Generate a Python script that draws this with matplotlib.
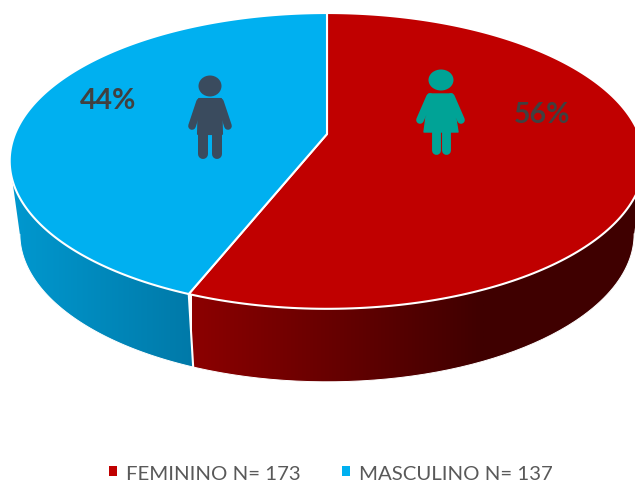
import numpy as np
import matplotlib
matplotlib.use('Agg')
import matplotlib.pyplot as plt
from matplotlib.patches import Polygon, Ellipse, Patch
from matplotlib.colors import LinearSegmentedColormap

categories = ['FEMININO N= 173', 'MASCULINO N= 137']
shares = [56, 44]
pct_labels = ['56%', '44%']
colors = ['#c00000', '#00b0f0']

plt.rcParams['font.family'] = ['Lato', 'DejaVu Sans']

fig = plt.figure(figsize=(6.35, 4.81), dpi=100)
ax = fig.add_axes([0, 0, 1, 1])

K = 0.182


def top_pt(t):
    # t is clockwise from 12 o'clock, in radians
    u, v = np.sin(t), np.cos(t)
    w = 1 + K * v
    return 327 + 312 * u / w, 135 - 143 * v / w


def low_pt(t):
    u, v = np.sin(t), np.cos(t)
    w = 1 + K * v
    return 327 + 302 * u / w, 208 - 143 * v / w


edges = np.cumsum([0] + shares) / sum(shares) * 2 * np.pi

# side wall: horizontal gradient clipped to each slice
side_maps = [LinearSegmentedColormap.from_list('r', ['#8c0000', '#3f0000']),
             LinearSegmentedColormap.from_list('b', ['#0098cf', '#0079a8'])]
side_extent = [(192, 484), (12, 194)]
grad = np.linspace(0, 1, 256).reshape(1, -1)
for i, (a, b) in enumerate(zip(edges[:-1], edges[1:])):
    ts = np.linspace(a, b, 300)
    xu, yu = top_pt(ts)
    xl, yl = low_pt(ts)
    # go only as far as the widest point of each rim, so the outline stays convex
    if i == 0:
        iu, il = np.argmax(xu), np.argmax(xl)
        pts = list(zip(xu[iu:], yu[iu:])) + list(zip(xl[il:][::-1], yl[il:][::-1]))
        rim = (xl[il:], yl[il:])
    else:
        iu, il = np.argmin(xu), np.argmin(xl)
        pts = list(zip(xu[:iu + 1], yu[:iu + 1])) + list(zip(xl[:il + 1][::-1], yl[:il + 1][::-1]))
        rim = (xl[:il + 1], yl[:il + 1])
    shape = Polygon(pts, closed=True, facecolor='none', edgecolor='none', zorder=2)
    ax.add_patch(shape)
    x0, x1 = side_extent[i]
    ax.imshow(grad, cmap=side_maps[i], extent=(x0, x1, 0, 481), aspect='auto',
              zorder=2, clip_path=shape)
    if i == 0:
        # red wall keeps its dark end colour past the gradient
        ax.imshow(np.ones((1, 2)), cmap=side_maps[i], vmin=0, vmax=1,
                  extent=(x1, 640, 0, 481), aspect='auto', zorder=2, clip_path=shape)
    ax.plot(rim[0], rim[1], color='white', lw=0.7, zorder=3)

ax.set_xlim(0, 635)
ax.set_ylim(481, 0)
ax.axis('off')

# white line between the two side walls
xa, ya = top_pt(edges[1])
xb, yb = low_pt(edges[1])
ax.plot([xa, xb], [ya, yb], color='white', lw=1.5, zorder=3)

# top face
for i, (a, b) in enumerate(zip(edges[:-1], edges[1:])):
    ts = np.linspace(a, b, 200)
    xs, ys = top_pt(ts)
    pts = [(327, 135)] + list(zip(xs, ys))
    ax.add_patch(Polygon(pts, closed=True, facecolor=colors[i], edgecolor='white',
                         lw=1.5, joinstyle='round', zorder=4))

# percent labels
ax.text(108, 101, pct_labels[1], fontsize=20.5, fontweight='bold', color='#404040',
        ha='center', va='center', zorder=6)
ax.text(542, 115, pct_labels[0], fontsize=20.5, fontweight='bold', color='#404040',
        ha='center', va='center', zorder=6)

# man icon
man = '#3a4b5e'
ax.add_patch(Ellipse((210, 87), 23, 21, facecolor=man, zorder=5))
ax.add_patch(Polygon([(199, 100), (221, 100), (222, 135), (198, 135)], closed=True,
                     facecolor=man, edgecolor=man, lw=1.5, joinstyle='round', zorder=5))
for xs, ys, lw in [([200, 192], [103, 127], 5.5), ([220, 228], [103, 127], 5.5),
                   ([203, 203], [130, 155], 7.2), ([217, 217], [130, 155], 7.2)]:
    ax.plot(xs, ys, color=man, lw=lw, solid_capstyle='round', zorder=5)

# woman icon
woman = '#00a396'
ax.add_patch(Ellipse((441, 81), 25, 21, facecolor=woman, zorder=5))
ax.add_patch(Polygon([(429, 95), (452, 95), (458, 133), (424, 133)], closed=True,
                     facecolor=woman, edgecolor=woman, lw=1.0, joinstyle='round', zorder=5))
for xs, ys, lw in [([430, 420], [98, 121], 5.5), ([451, 461], [98, 121], 5.5),
                   ([436, 436], [130, 151], 6.4), ([446, 446], [130, 151], 6.4)]:
    ax.plot(xs, ys, color=woman, lw=lw, solid_capstyle='round', zorder=5)

handles = [Patch(facecolor=c, edgecolor='none') for c in colors]
leg = ax.legend(handles, categories, loc='center', bbox_to_anchor=(331 / 635, 1 - 474 / 481),
                ncol=2, frameon=False, fontsize=14.7, labelcolor='#595959',
                handlelength=0.4, handleheight=0.4, handletextpad=0.45,
                columnspacing=2.0, borderpad=0)

fig.savefig('out.png', dpi=100)
